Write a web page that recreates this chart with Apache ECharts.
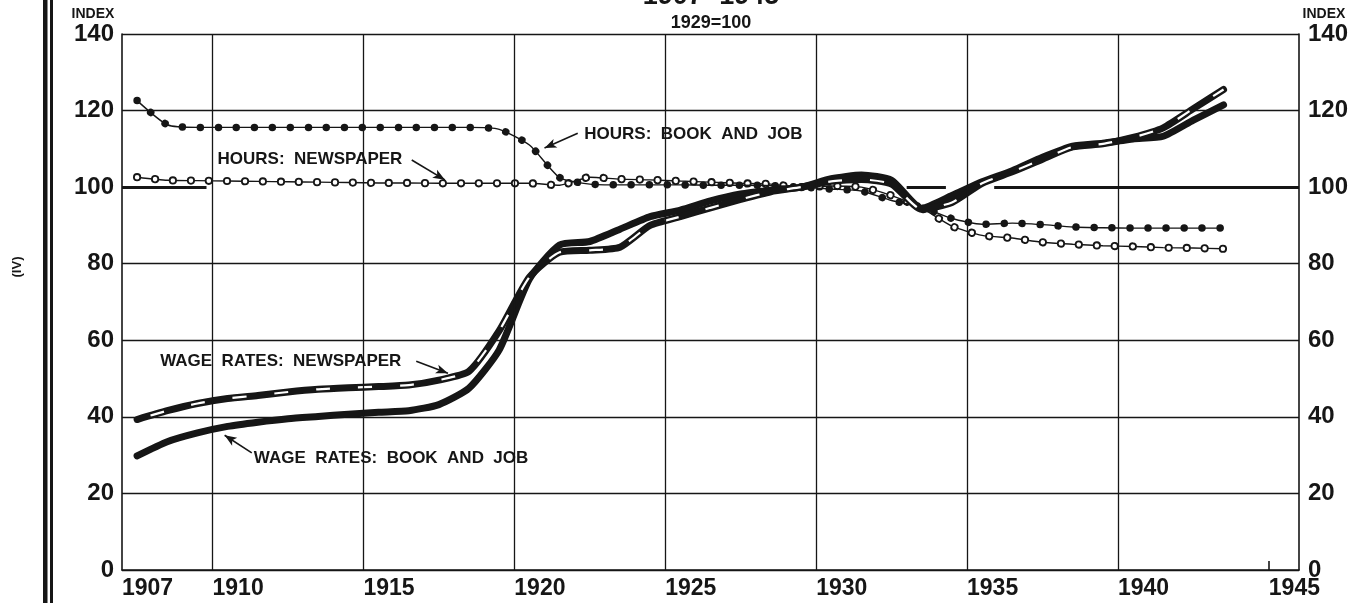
<!DOCTYPE html>
<html>
<head>
<meta charset="utf-8">
<title>Wage rates and hours, printing 1907-1943</title>
<script src="https://cdn.jsdelivr.net/npm/echarts@6/dist/echarts.min.js"></script>
<style>
  html, body { margin: 0; padding: 0; background: #fff; }
  #chart { width: 1361px; height: 603px; }
</style>
</head>
<body>
<div id="chart"></div>
<script>
// annual index values, 1929 = 100
const years = [1907, 1908, 1909, 1910, 1911, 1912, 1913, 1914, 1915, 1916, 1917, 1918, 1919,
  1920, 1921, 1922, 1923, 1924, 1925, 1926, 1927, 1928, 1929, 1930, 1931, 1932, 1933,
  1934, 1935, 1936, 1937, 1938, 1939, 1940, 1941, 1942, 1943];
const hoursBook = [122.6, 116.3, 115.6, 115.6, 115.6, 115.6, 115.6, 115.6, 115.6, 115.6, 115.6, 115.6, 115.1,
  111.0, 102.5, 100.8, 100.6, 100.6, 100.6, 100.5, 100.5, 100.4, 100.0, 99.5, 99.0, 96.5, 94.8,
  91.8, 90.3, 90.6, 90.2, 89.6, 89.4, 89.3, 89.3, 89.3, 89.3];
const hoursNews = [102.6, 101.8, 101.7, 101.6, 101.5, 101.4, 101.3, 101.2, 101.1, 101.1, 101.0, 101.0, 101.0,
  101.0, 100.5, 102.6, 102.1, 101.9, 101.6, 101.3, 101.0, 100.8, 100.0, 100.3, 100.0, 97.8, 94.5,
  89.8, 87.4, 86.7, 85.6, 85.1, 84.7, 84.5, 84.2, 84.1, 83.9];
const wageNews = [39.3, 41.6, 43.5, 44.8, 45.6, 46.5, 47.2, 47.6, 47.9, 48.3, 49.6, 51.9, 62.5,
  76.5, 83.0, 83.5, 84.3, 90.0, 92.3, 94.6, 96.8, 98.8, 100.0, 101.5, 102.0, 100.8, 94.2,
  96.0, 101.0, 104.0, 107.3, 110.5, 111.3, 113.0, 115.5, 120.5, 125.5];
const wageBook = [29.8, 33.5, 35.8, 37.5, 38.6, 39.5, 40.1, 40.7, 41.2, 41.6, 43.2, 47.5, 57.5,
  76.0, 84.9, 85.8, 89.0, 92.3, 94.0, 96.4, 98.2, 99.2, 100.0, 102.2, 103.2, 101.8, 94.5,
  97.8, 101.4, 104.3, 107.8, 110.7, 111.5, 112.6, 113.3, 117.5, 121.5];

// axis ticks
const yearLabels = [1907, 1910, 1915, 1920, 1925, 1930, 1935, 1940, 1945];
const gridYears = [1910, 1915, 1920, 1925, 1930, 1935, 1940];
const shortTicks = [1945];
const baseSpans = [[1907, 1909.8], [1933.0, 1934.3], [1935.9, 1946]];

const notes = [
  {name: 'HOURS:  BOOK  AND  JOB', at: [1922.3, 113.9], from: [1922.1, 114.1], to: [1921.0, 110.2]},
  {name: 'HOURS:  NEWSPAPER', at: [1910.15, 107.3], from: [1916.6, 107.1], to: [1917.7, 101.9]},
  {name: 'WAGE  RATES:  NEWSPAPER', at: [1908.25, 54.5], from: [1916.75, 54.5], to: [1917.8, 51.4]},
  {name: 'WAGE  RATES:  BOOK  AND  JOB', at: [1911.35, 29.2], from: [1911.3, 30.6], to: [1910.4, 35.2]},
];

const ink = '#161616';
const font = 'Liberation Sans';

// each yearly value is plotted in the middle of its year
function points(values) {
  return values.map((v, i) => [years[i] + 0.5, v]);
}

const dots = [0.001, 18];

const myChart = echarts.init(document.getElementById('chart'), null, {renderer: 'canvas'});
myChart.setOption({
  animation: false,
  backgroundColor: '#fff',
  grid: {left: 122, right: 62, top: 34, bottom: 33},
  xAxis: {
    type: 'value', min: 1907, max: 1946, interval: 1,
    axisLine: {show: true, onZero: false, lineStyle: {color: ink, width: 1.6}},
    axisTick: {show: true, inside: true, length: 9, customValues: shortTicks, lineStyle: {color: ink, width: 1.6}},
    axisLabel: {
      customValues: yearLabels, align: 'left', margin: 7,
      formatter: v => String(v),
      color: ink, fontFamily: font, fontWeight: 'bold', fontSize: 23
    },
    splitLine: {show: false}
  },
  yAxis: [{
    type: 'value', min: 0, max: 140, interval: 20, position: 'left',
    axisLine: {show: true, lineStyle: {color: ink, width: 1.6}},
    axisTick: {show: false},
    axisLabel: {color: ink, fontFamily: font, fontWeight: 'bold', fontSize: 24, margin: 8},
    splitLine: {
      show: true,
      lineStyle: {color: [ink, ink, ink, ink, ink, 'rgba(0,0,0,0)', ink, ink], width: 1.3}
    }
  }, {
    type: 'value', min: 0, max: 140, interval: 20, position: 'right',
    axisLine: {show: true, lineStyle: {color: ink, width: 1.6}},
    axisTick: {show: false},
    axisLabel: {color: ink, fontFamily: font, fontWeight: 'bold', fontSize: 24, margin: 9},
    splitLine: {show: false}
  }],
  series: [
    {
      type: 'line', data: points(hoursNews), symbol: 'none', smooth: 0.2, silent: true,
      lineStyle: {color: ink, width: 1.4},
      markLine: {
        silent: true, symbol: 'none', label: {show: false},
        lineStyle: {color: ink, width: 1.3, type: 'solid'},
        data: gridYears.map(y => ({xAxis: y})).concat(
          baseSpans.map(s => [
            {coord: [s[0], 100], lineStyle: {width: 3.2}},
            {coord: [s[1], 100]}
          ])
        )
      }
    },
    {
      type: 'line', data: points(hoursNews), symbol: 'none', smooth: 0.2, silent: true,
      lineStyle: {color: ink, width: 8.2, type: dots, cap: 'round'}
    },
    {
      type: 'line', data: points(hoursNews), symbol: 'none', smooth: 0.2, silent: true,
      lineStyle: {color: '#fff', width: 4.6, type: dots, cap: 'round'}
    },
    {
      type: 'line', data: points(hoursBook), symbol: 'none', smooth: 0.2, silent: true,
      lineStyle: {color: ink, width: 1.4},
      markLine: {
        silent: true, symbol: ['none', 'arrow'], symbolSize: [7, 12], label: {show: false},
        lineStyle: {color: ink, width: 1.6, type: 'solid'},
        data: notes.map(n => [{coord: n.from}, {coord: n.to}])
      },
      markPoint: {
        silent: true, symbol: 'circle', symbolSize: 1, itemStyle: {color: 'rgba(0,0,0,0)'},
        label: {
          show: true, position: 'right', distance: 0, formatter: '{b}',
          color: ink, fontFamily: font, fontWeight: 'bold', fontSize: 17
        },
        data: notes.map(n => ({name: n.name, coord: n.at}))
      }
    },
    {
      type: 'line', data: points(hoursBook), symbol: 'none', smooth: 0.2, silent: true,
      lineStyle: {color: ink, width: 7.5, type: dots, cap: 'round'}
    },
    {
      type: 'line', data: points(wageBook), symbol: 'none', smooth: 0.2, silent: true,
      lineStyle: {color: ink, width: 7, cap: 'round', join: 'round'}
    },
    {
      type: 'line', data: points(wageNews), symbol: 'none', smooth: 0.2, silent: true,
      lineStyle: {color: ink, width: 7, cap: 'round', join: 'round'}
    },
    {
      type: 'line', data: points(wageNews), symbol: 'none', smooth: 0.2, silent: true,
      lineStyle: {color: '#fff', width: 2.2, type: [14, 28], dashOffset: -14}
    }
  ],
  graphic: [
    {type: 'rect', left: 43, top: 0, shape: {width: 4.5, height: 603}, style: {fill: ink}, silent: true},
    {type: 'rect', left: 50, top: 0, shape: {width: 3, height: 603}, style: {fill: ink}, silent: true},
    {
      type: 'text', x: 17, y: 267, rotation: Math.PI / 2, silent: true,
      style: {text: '(IV)', fill: ink, font: 'bold 13px ' + font, align: 'center', verticalAlign: 'middle'}
    },
    {
      type: 'text', x: 711, y: -3, silent: true,
      style: {text: '1907 -1945', fill: ink, font: 'bold 27px ' + font, align: 'center', verticalAlign: 'middle'}
    },
    {
      type: 'text', x: 711, y: 23, silent: true,
      style: {text: '1929=100', fill: ink, font: 'bold 18px ' + font, align: 'center', verticalAlign: 'middle'}
    },
    {
      type: 'text', x: 93, y: 14, silent: true,
      style: {text: 'INDEX', fill: ink, font: 'bold 14px ' + font, align: 'center', verticalAlign: 'middle'}
    },
    {
      type: 'text', x: 1324, y: 14, silent: true,
      style: {text: 'INDEX', fill: ink, font: 'bold 14px ' + font, align: 'center', verticalAlign: 'middle'}
    }
  ]
});
</script>
</body>
</html>
